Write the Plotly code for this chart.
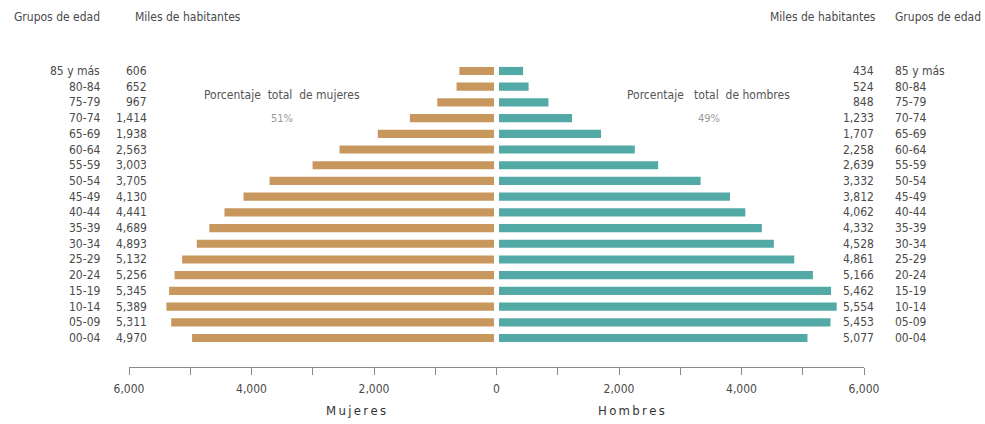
import plotly.graph_objects as go

# Population by age group, thousands of inhabitants
age_groups = ["00-04", "05-09", "10-14", "15-19", "20-24", "25-29", "30-34", "35-39",
              "40-44", "45-49", "50-54", "55-59", "60-64", "65-69", "70-74", "75-79",
              "80-84", "85 y más"]
mujeres = [4970, 5311, 5389, 5345, 5256, 5132, 4893, 4689, 4441, 4130, 3705, 3003,
           2563, 1938, 1414, 967, 652, 606]
hombres = [5077, 5453, 5554, 5462, 5166, 4861, 4528, 4332, 4062, 3812, 3332, 2639,
           2258, 1707, 1233, 848, 524, 434]

tick_vals = [-6000, -5000, -4000, -3000, -2000, -1000, 0, 1000, 2000, 3000, 4000, 5000, 6000]
tick_text = ["6,000", "", "4,000", "", "2,000", "", "0", "", "2,000", "", "4,000", "", "6,000"]

pct_mujeres = "51%"
pct_hombres = "49%"

FONT = "Liberation Sans Narrow, DejaVu Sans Condensed, Arial Narrow, sans-serif"
TXT = "#4a4a4a"
C_M = "#C8975D"
C_H = "#53A9A6"

W, H = 985, 424
L, R, T, B = 129, 121, 40, 57
plot_w = W - L - R
plot_h = H - T - B


def px_x(px):
    """Horizontal pixel position -> paper coordinate."""
    return (px - L) / plot_w


def px_y(py):
    """Vertical pixel position (from top) -> paper coordinate."""
    return (H - B - py) / plot_h


def spaced(word):
    """Letter-spaced title using thin spaces."""
    return "\u2009".join(word)


ypos = list(range(len(age_groups)))

fig = go.Figure()
fig.add_trace(go.Bar(y=ypos, x=[-v for v in mujeres], orientation="h",
                     marker=dict(color=C_M, line=dict(width=0)), width=0.52,
                     showlegend=False, hoverinfo="skip"))
fig.add_trace(go.Bar(y=ypos, x=hombres, orientation="h",
                     marker=dict(color=C_H, line=dict(width=0)), width=0.52,
                     showlegend=False, hoverinfo="skip"))

lab_font = dict(family=FONT, size=12, color=TXT)
ann = []
for i, g in enumerate(age_groups):
    ann.append(dict(x=px_x(102), y=i, xref="paper", yref="y", text=g,
                    xanchor="right", yanchor="middle", showarrow=False, font=lab_font))
    ann.append(dict(x=px_x(149), y=i, xref="paper", yref="y", text=f"{mujeres[i]:,}",
                    xanchor="right", yanchor="middle", showarrow=False, font=lab_font))
    ann.append(dict(x=px_x(876), y=i, xref="paper", yref="y", text=f"{hombres[i]:,}",
                    xanchor="right", yanchor="middle", showarrow=False, font=lab_font))
    ann.append(dict(x=px_x(893), y=i, xref="paper", yref="y", text=g,
                    xanchor="left", yanchor="middle", showarrow=False, font=lab_font))

# Column headers
for px, txt in [(12, "Grupos de edad"), (133, "Miles de habitantes"),
                (768, "Miles de habitantes"), (893, "Grupos de edad")]:
    ann.append(dict(x=px_x(px), y=px_y(17), xref="paper", yref="paper", text=txt,
                    xanchor="left", yanchor="middle", showarrow=False, font=lab_font))

# Share of total population
ann.append(dict(x=-3500, y=15.5, xref="x", yref="y", text="Porcentaje  total  de mujeres",
                showarrow=False, font=dict(family=FONT, size=12, color="#555")))
ann.append(dict(x=-3500, y=14.0, xref="x", yref="y", text=pct_mujeres,
                showarrow=False, font=dict(family=FONT, size=11, color="#999")))
ann.append(dict(x=3465, y=15.5, xref="x", yref="y", text="Porcentaje   total  de hombres",
                showarrow=False, font=dict(family=FONT, size=12, color="#555")))
ann.append(dict(x=3465, y=14.0, xref="x", yref="y", text=pct_hombres,
                showarrow=False, font=dict(family=FONT, size=11, color="#999")))

# Axis titles
ann.append(dict(x=px_x(356), y=px_y(410), xref="paper", yref="paper", text=spaced("Mujeres"),
                showarrow=False, xanchor="center", yanchor="middle",
                font=dict(family=FONT, size=13, color="#333")))
ann.append(dict(x=px_x(631), y=px_y(410), xref="paper", yref="paper", text=spaced("Hombres"),
                showarrow=False, xanchor="center", yanchor="middle",
                font=dict(family=FONT, size=13, color="#333")))

# y range from row layout: row 0 at y=338 px, row 17 at y=71 px
step = (338 - 71) / 17
y_lo = -(H - B - 338) / step
y_hi = 17 + (71 - T) / step

fig.update_layout(
    width=W, height=H,
    margin=dict(l=L, r=R, t=T, b=B, pad=0),
    paper_bgcolor="white", plot_bgcolor="white",
    barmode="overlay",
    annotations=ann,
    shapes=[dict(type="line", xref="x", yref="y", x0=0, x1=0, y0=-0.5, y1=17.6,
                 line=dict(color="white", width=5), layer="above")],
    xaxis=dict(range=[-6000, 6000], tickvals=tick_vals, ticktext=tick_text,
               showgrid=False, zeroline=False, showline=True, linecolor="#8a8a8a",
               linewidth=1, ticks="outside", ticklen=7, tickcolor="#8a8a8a",
               ticklabelstandoff=4,
               tickfont=dict(family=FONT, size=12, color=TXT), fixedrange=True),
    yaxis=dict(range=[y_lo, y_hi], showticklabels=False, showgrid=False,
               zeroline=False, showline=False, ticks="", fixedrange=True),
)

fig.write_html("out.html")
